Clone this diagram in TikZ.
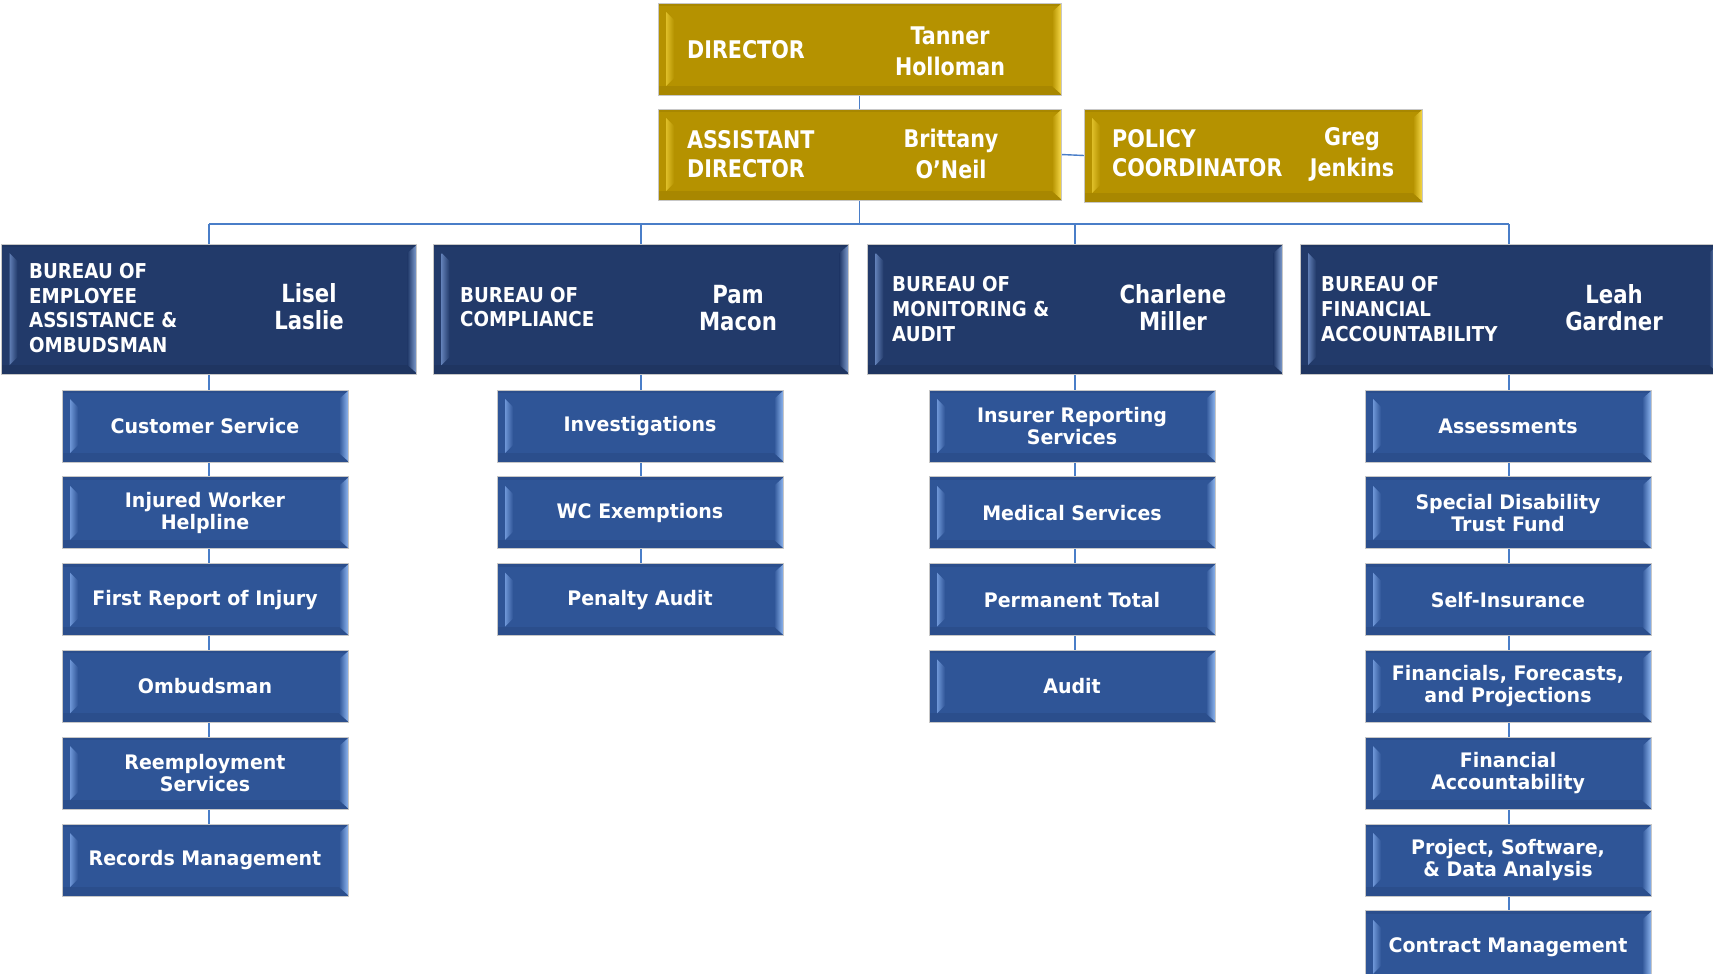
\documentclass[tikz,border=0pt]{standalone}
\usepackage{fontspec}
\setmainfont{DejaVu Sans}
\newfontfamily\goldfont{DejaVu Sans}[FakeStretch=0.85]
\newfontfamily\titfont{DejaVu Sans}[FakeStretch=0.89]
\newfontfamily\namfont{DejaVu Sans}[FakeStretch=0.85]
\newfontfamily\subfont{DejaVu Sans}[FakeStretch=0.95]
\pgfdeclarelayer{background}
\pgfsetlayers{background,main}
\definecolor{goldM}{RGB}{181,146,0}
\definecolor{goldL}{RGB}{222,190,40}
\definecolor{goldR}{RGB}{245,215,70}
\definecolor{goldD}{RGB}{168,135,0}
\definecolor{navyM}{RGB}{34,58,106}
\definecolor{navyL}{RGB}{95,125,180}
\definecolor{navyR}{RGB}{130,160,210}
\definecolor{navyD}{RGB}{31,53,97}
\definecolor{subM}{RGB}{47,85,151}
\definecolor{subL}{RGB}{110,150,215}
\definecolor{subR}{RGB}{140,180,238}
\definecolor{subD}{RGB}{43,78,140}
\definecolor{connC}{RGB}{74,126,200}
\tikzset{
  bevel/.style n args={4}{fill=#1, draw=black!22, line width=0.8pt,
    inner sep=0pt, outer sep=0pt,
    path picture={
      \fill[#4] ([yshift=9pt]path picture bounding box.south west) rectangle (path picture bounding box.south east);
      \fill[#4] ([yshift=-3pt]path picture bounding box.north west) rectangle (path picture bounding box.north east);
      \shade[left color=#2, right color=#1] ([shift={(8pt,-9pt)}]path picture bounding box.north west)
        -- ([shift={(16pt,-17pt)}]path picture bounding box.north west)
        -- ([shift={(16pt,17pt)}]path picture bounding box.south west)
        -- ([shift={(8pt,9pt)}]path picture bounding box.south west) -- cycle;
      \shade[left color=#1, right color=#3] ([shift={(0pt,-1pt)}]path picture bounding box.north east)
        -- ([shift={(-9pt,-9pt)}]path picture bounding box.north east)
        -- ([shift={(-9pt,9pt)}]path picture bounding box.south east)
        -- ([shift={(0pt,1pt)}]path picture bounding box.south east) -- cycle;
    }},
  goldbox/.style={bevel={goldM}{goldL}{goldR}{goldD}},
  navybox/.style={bevel={navyM}{navyL}{navyR}{navyD}, minimum width=415pt, minimum height=130pt},
  subbox/.style={bevel={subM}{subL}{subR}{subD}, minimum width=286pt, minimum height=72pt,
    text=white, align=center, font=\subfont\bfseries\fontsize{20}{22.3}\selectfont},
  goldtitle/.style={text=white, align=left, anchor=west, inner sep=0pt,
    font=\goldfont\bfseries\fontsize{24.3}{29}\selectfont},
  goldname/.style={text=white, align=center, inner sep=0pt,
    font=\goldfont\bfseries\fontsize{24.3}{31}\selectfont},
  bureautitle/.style={text=white, align=left, anchor=west, inner sep=0pt,
    font=\titfont\bfseries\fontsize{20.5}{24.8}\selectfont},
  bureauname/.style={text=white, align=center, inner sep=0pt,
    font=\namfont\bfseries\fontsize{25}{26.7}\selectfont},
  conn/.style={draw=connC, line width=1.4pt}
}
\begin{document}
\begin{tikzpicture}[x=1pt,y=-1pt]
\useasboundingbox (0,0) rectangle (1713,974);

% top gold boxes
\node[goldbox, minimum width=403pt, minimum height=92pt] (dir) at (859.5,49) {};
\node[goldbox, minimum width=403pt, minimum height=91pt] (asst) at (859.5,154.5) {};
\node[goldbox, minimum width=338pt, minimum height=93pt] (pol) at (1253,155.5) {};
\node[goldtitle] (dirT) at (687,50) {DIRECTOR};
\node[goldname] (dirN) at (950,51) {Tanner\\Holloman};
\node[goldtitle] (asstT) at (687,154) {ASSISTANT\\DIRECTOR};
\node[goldname] (asstN) at (951,154) {Brittany\\O’Neil};
\node[goldtitle] (polT) at (1112,153) {POLICY\\COORDINATOR};
\node[goldname] (polN) at (1352,154) {Greg\\Jenkins};

% bureaus
\node[navybox] (emp) at (209,309) {};
\node[navybox] (comp) at (641,309) {};
\node[navybox] (mon) at (1075,309) {};
\node[navybox, minimum width=418pt] (fin) at (1509,309) {};
\node[bureautitle] (empT) at (29,308) {BUREAU OF\\EMPLOYEE\\ASSISTANCE \&\\OMBUDSMAN};
\node[bureauname] (empN) at (309,307) {Lisel\\Laslie};
\node[bureautitle] (compT) at (460,307) {BUREAU OF\\COMPLIANCE};
\node[bureauname] (compN) at (738,308) {Pam\\Macon};
\node[bureautitle] (monT) at (892,309) {BUREAU OF\\MONITORING \&\\AUDIT};
\node[bureauname] (monN) at (1173,308) {Charlene\\Miller};
\node[bureautitle] (finT) at (1321,309) {BUREAU OF\\FINANCIAL\\ACCOUNTABILITY};
\node[bureauname] (finN) at (1614,307.5) {Leah\\Gardner};

% employee assistance units
\node[subbox] (e1) at (205,426) {Customer Service};
\node[subbox] (e2) at (205,512.8) {Injured Worker\\Helpline};
\node[subbox] (e3) at (205,599.6) {First Report of Injury};
\node[subbox] (e4) at (205,686.4) {Ombudsman};
\node[subbox] (e5) at (205,773.2) {Reemployment\\Services};
\node[subbox] (e6) at (205,860) {Records Management};

% compliance units
\node[subbox] (c1) at (640,426) {Investigations};
\node[subbox] (c2) at (640,512.8) {WC Exemptions};
\node[subbox] (c3) at (640,599.6) {Penalty Audit};

% monitoring units
\node[subbox] (m1) at (1072,426) {Insurer Reporting\\Services};
\node[subbox] (m2) at (1072,512.8) {Medical Services};
\node[subbox] (m3) at (1072,599.6) {Permanent Total};
\node[subbox] (m4) at (1072,686.4) {Audit};

% financial units
\node[subbox] (f1) at (1508,426) {Assessments};
\node[subbox] (f2) at (1508,512.8) {Special Disability\\Trust Fund};
\node[subbox] (f3) at (1508,599.6) {Self-Insurance};
\node[subbox] (f4) at (1508,686.4) {Financials, Forecasts,\\and Projections};
\node[subbox] (f5) at (1508,773.2) {Financial\\Accountability};
\node[subbox] (f6) at (1508,860) {Project, Software,\\\& Data Analysis};
\node[subbox] (f7) at (1508,946.8) {Contract Management};

\coordinate (bus) at (860,224);

\begin{pgfonlayer}{background}
\draw[conn] (dir.south) -- (asst.north);
\draw[conn] (asst.east) -- (pol.west);
\draw[conn] (asst.south) -- (asst.south |- bus);
\draw[conn] (emp.north |- bus) -- (fin.north |- bus);
\foreach \b in {emp,comp,mon,fin} {\draw[conn] (\b.north |- bus) -- (\b.north);}
\draw[conn] (emp.south) -- (emp.south |- e6.north);
\draw[conn] (comp.south) -- (comp.south |- c3.north);
\draw[conn] (mon.south) -- (mon.south |- m4.north);
\draw[conn] (fin.south) -- (fin.south |- f7.north);
\end{pgfonlayer}
\end{tikzpicture}
\end{document}
